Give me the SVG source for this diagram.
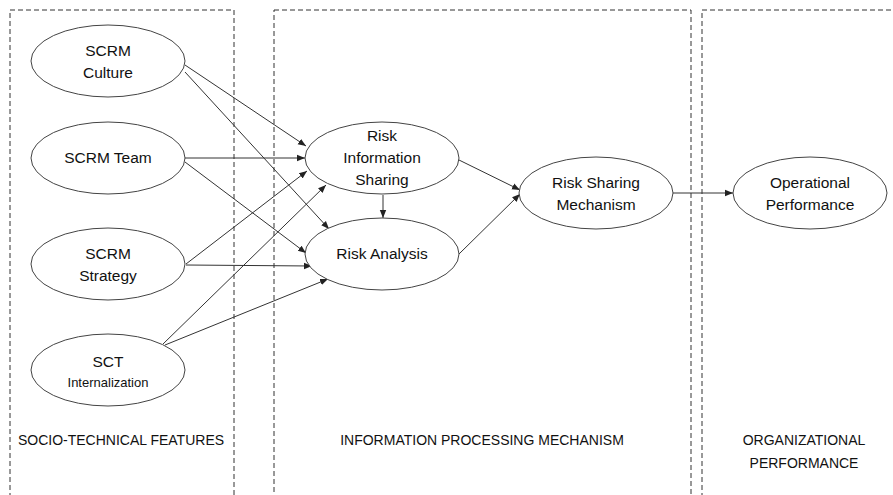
<svg xmlns="http://www.w3.org/2000/svg" width="893" height="495" viewBox="0 0 893 495">
<style>
.box{fill:none;stroke:#333;stroke-width:1;stroke-dasharray:5,3}
.node{fill:#fff;stroke:#444;stroke-width:1}
.lbl{font-family:"Liberation Sans",Arial,sans-serif;font-size:15.5px;fill:#111;text-anchor:middle}
.sm{font-size:13px}
.sec{font-family:"Liberation Sans",Arial,sans-serif;font-size:14px;fill:#111;text-anchor:middle}
.edge{stroke:#333;stroke-width:1;fill:none;marker-end:url(#ah)}
</style>
<defs>
<marker id="ah" viewBox="0 0 10 10" refX="10" refY="5" markerWidth="8" markerHeight="8" markerUnits="userSpaceOnUse" orient="auto">
<path d="M0,1 L10,5 L0,9 z" fill="#222"/>
</marker>
</defs>
<rect width="893" height="495" fill="#fff"/>
<g id="sections">
<rect class="box" x="10" y="10" width="224" height="500"/>
<rect class="box" x="274" y="10" width="417" height="500"/>
<rect class="box" x="702" y="10" width="200" height="500"/>
<text class="sec" x="121" y="445">SOCIO-TECHNICAL FEATURES</text>
<text class="sec" x="482" y="445">INFORMATION PROCESSING MECHANISM</text>
<text class="sec" x="804" y="445">ORGANIZATIONAL</text>
<text class="sec" x="804" y="468">PERFORMANCE</text>
</g>
<g id="connectors">
<line class="edge" x1="185" y1="65" x2="306" y2="146"/>
<line class="edge" x1="185" y1="72" x2="329" y2="229"/>
<line class="edge" x1="185" y1="158" x2="305" y2="158"/>
<line class="edge" x1="185" y1="162" x2="306" y2="253"/>
<line class="edge" x1="186" y1="264" x2="307" y2="171"/>
<line class="edge" x1="186" y1="265" x2="312" y2="266"/>
<line class="edge" x1="163" y1="344" x2="326" y2="185"/>
<line class="edge" x1="165" y1="345" x2="328" y2="279"/>
<line class="edge" x1="383" y1="195" x2="383" y2="218"/>
<line class="edge" x1="459" y1="160" x2="520" y2="190"/>
<line class="edge" x1="459" y1="254" x2="520" y2="194"/>
<line class="edge" x1="673" y1="193" x2="733" y2="193"/>
</g>
<g id="scrm-culture">
<ellipse class="node" cx="108" cy="61" rx="77" ry="36"/>
<text class="lbl" x="108" y="56">SCRM</text>
<text class="lbl" x="108" y="78">Culture</text>
</g>
<g id="scrm-team">
<ellipse class="node" cx="108" cy="158" rx="77" ry="36"/>
<text class="lbl" x="108" y="163">SCRM Team</text>
</g>
<g id="scrm-strategy">
<ellipse class="node" cx="108" cy="264" rx="77" ry="36"/>
<text class="lbl" x="108" y="259">SCRM</text>
<text class="lbl" x="108" y="281">Strategy</text>
</g>
<g id="sct-internalization">
<ellipse class="node" cx="108" cy="370" rx="77" ry="36"/>
<text class="lbl" x="108" y="367">SCT</text>
<text class="lbl sm" x="108" y="387">Internalization</text>
</g>
<g id="risk-information-sharing">
<ellipse class="node" cx="382" cy="158" rx="77" ry="36"/>
<text class="lbl" x="382" y="141">Risk</text>
<text class="lbl" x="382" y="163">Information</text>
<text class="lbl" x="382" y="185">Sharing</text>
</g>
<g id="risk-analysis">
<ellipse class="node" cx="382" cy="254" rx="77" ry="36"/>
<text class="lbl" x="382" y="259">Risk Analysis</text>
</g>
<g id="risk-sharing-mechanism">
<ellipse class="node" cx="596" cy="193" rx="77" ry="36"/>
<text class="lbl" x="596" y="188">Risk Sharing</text>
<text class="lbl" x="596" y="210">Mechanism</text>
</g>
<g id="operational-performance">
<ellipse class="node" cx="810" cy="193" rx="77" ry="36"/>
<text class="lbl" x="810" y="188">Operational</text>
<text class="lbl" x="810" y="210">Performance</text>
</g>
</svg>
